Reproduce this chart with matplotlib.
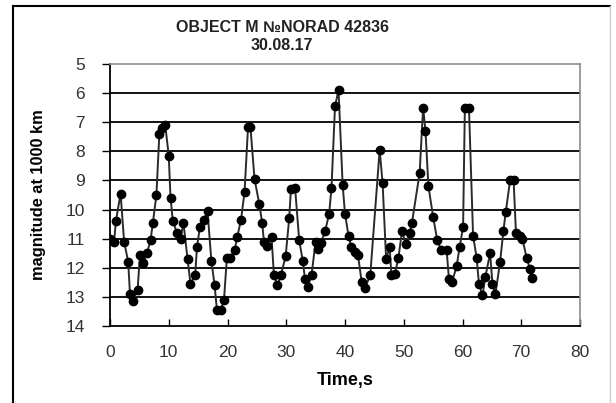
import matplotlib
matplotlib.use("Agg")
import matplotlib.pyplot as plt
from matplotlib.lines import Line2D

plt.rcParams['font.family'] = ['Liberation Sans', 'DejaVu Sans']

# observation time, s
time_s = [0.0, 0.7, 1.0, 1.8, 2.4, 3.1, 3.4, 3.9, 4.7, 5.1, 5.6, 6.3, 6.9, 7.3, 7.9, 8.4,
          8.9, 9.4, 10.0, 10.3, 10.7, 11.4, 12.0, 12.5, 13.2, 13.7, 14.5, 14.8, 15.3, 15.95,
          16.6, 17.25, 17.8, 18.2, 18.9, 19.4, 19.9, 20.5, 21.2, 21.65, 22.3, 22.9, 23.5,
          23.9, 24.6, 25.4, 25.9, 26.2, 26.8, 27.5, 27.9, 28.5, 29.1, 29.9, 30.5, 30.8,
          31.5, 32.2, 32.8, 33.2, 33.7, 34.3, 35.0, 35.4, 35.9, 36.6, 37.3, 37.7, 38.3,
          38.9, 39.6, 40.0, 40.6, 41.1, 41.7, 42.2, 42.85, 43.4, 44.3, 45.9, 46.4, 47.0,
          47.6, 47.9, 48.5, 49.1, 49.7, 50.4, 51.0, 51.4, 52.7, 53.3, 53.7, 54.2, 55.0,
          55.7, 56.4, 57.3, 57.7, 58.2, 59.0, 59.5, 60.1, 60.4, 61.1, 61.8, 62.4, 62.8,
          63.4, 63.9, 64.7, 65.1, 65.6, 66.4, 66.95, 67.35, 68.1, 68.7, 69.1, 69.8, 70.2,
          70.9, 71.5, 71.9]
# magnitude reduced to 1000 km
magnitude = [11.0, 11.1, 10.4, 9.45, 11.1, 11.8, 12.9, 13.15, 12.75, 11.55, 11.85, 11.5,
             11.05, 10.45, 9.5, 7.4, 7.2, 7.1, 8.15, 9.6, 10.4, 10.8, 11.0, 10.45, 11.7,
             12.55, 12.25, 11.3, 10.6, 10.35, 10.05, 11.75, 12.6, 13.45, 13.45, 13.1, 11.65,
             11.65, 11.4, 10.95, 10.35, 9.4, 7.15, 7.15, 8.95, 9.8, 10.45, 11.1, 11.25,
             10.95, 12.25, 12.6, 12.25, 11.6, 10.3, 9.3, 9.25, 11.05, 11.75, 12.4, 12.65,
             12.25, 11.1, 11.35, 11.15, 10.75, 10.15, 9.25, 6.45, 5.9, 9.15, 10.15, 10.9,
             11.3, 11.45, 11.55, 12.5, 12.7, 12.25, 7.95, 9.1, 11.7, 11.3, 12.25, 12.2,
             11.65, 10.75, 11.2, 10.8, 10.45, 8.75, 6.5, 7.3, 9.2, 10.25, 11.05, 11.4, 11.4,
             12.4, 12.5, 11.95, 11.3, 10.6, 6.5, 6.5, 10.9, 11.65, 12.55, 12.95, 12.3, 11.5,
             12.55, 12.9, 11.8, 10.75, 10.1, 9.0, 9.0, 10.8, 10.9, 11.0, 11.65, 12.05, 12.35]

x_ticks = [0, 10, 20, 30, 40, 50, 60, 70, 80]
y_ticks = [5, 6, 7, 8, 9, 10, 11, 12, 13, 14]

fig = plt.figure(figsize=(6.16, 4.03), dpi=100)
ax = fig.add_axes([110 / 616, 1 - 326 / 403, 470 / 616, 262 / 403])

# horizontal grid (Excel style)
for yv in y_ticks[1:-1]:
    ax.axhline(yv, color="black", lw=1.3, zorder=1)

ax.plot(time_s, magnitude, color="#2a2a2a", lw=1.4, marker="o", ms=6,
        mfc="black", mec="black", zorder=3)

ax.set_xlim(0, 80)
ax.set_ylim(14, 5)
ax.set_xticks(x_ticks)
ax.set_yticks(y_ticks)
ax.tick_params(axis="x", direction="in", length=5, width=1, labelsize=12.5, pad=14)
ax.tick_params(axis="y", direction="out", length=6, width=1, labelsize=12.5, pad=12)
for lab in ax.get_xticklabels() + ax.get_yticklabels():
    lab.set_color("#333333")

for s in ("left", "bottom"):
    ax.spines[s].set_linewidth(1.3)
for s in ("top", "right"):
    ax.spines[s].set_color("#8c8c8c")
    ax.spines[s].set_linewidth(1.2)

ax.set_xlabel("Time,s", fontsize=13, fontweight="bold", labelpad=8)
ax.set_ylabel("magnitude at 1000 km", fontsize=11.8, fontweight="bold", labelpad=14)

fig.text(282 / 616, 1 - 27 / 403, "OBJECT M \u2116NORAD 42836", ha="center", va="center",
         fontsize=11.5, fontweight="bold", color="#222222")
fig.text(282 / 616, 1 - 46 / 403, "30.08.17", ha="center", va="center",
         fontsize=11.5, fontweight="bold", color="#222222")

# outer chart frame
fig.add_artist(Line2D([13 / 616, 13 / 616], [0, 1 - 6 / 403], color="black", lw=1.5))
fig.add_artist(Line2D([13 / 616, 610 / 616], [1 - 6 / 403, 1 - 6 / 403], color="black", lw=1.5))
fig.add_artist(Line2D([610 / 616, 610 / 616], [0, 1 - 6 / 403], color="#cccccc", lw=1.0))

fig.savefig("out.png", dpi=100)
